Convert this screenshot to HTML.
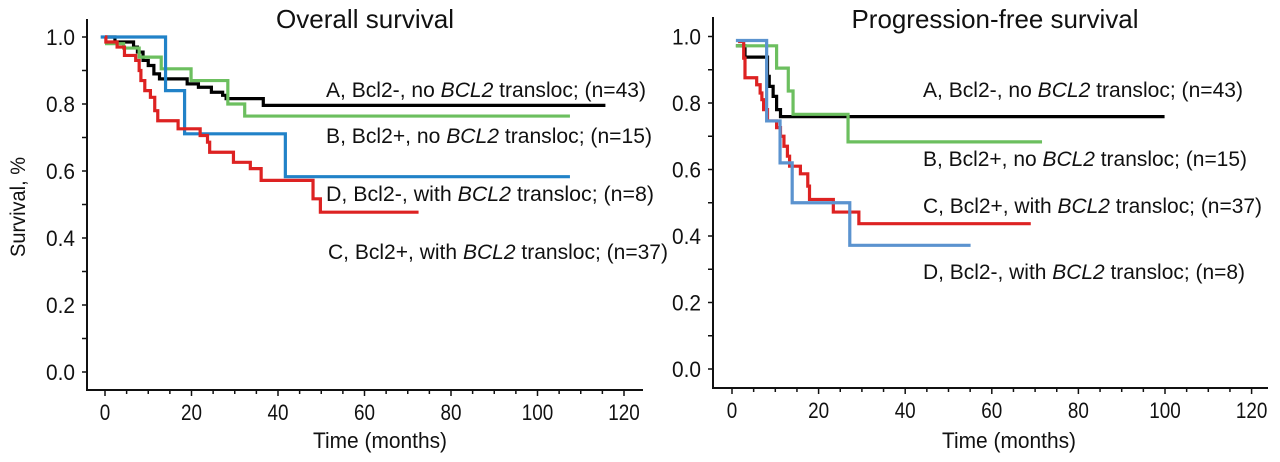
<!DOCTYPE html>
<html><head><meta charset="utf-8"><style>
html,body{margin:0;padding:0;background:#fff;}
svg{display:block;font-family:"Liberation Sans Narrow","Liberation Sans",sans-serif;}
text{fill:#111;}
</style></head><body>
<svg id="chart" width="1280" height="462" viewBox="0 0 1280 462" xmlns="http://www.w3.org/2000/svg"></svg>
<script>
// ---- Data (months, survival fraction) ----
const osLabels = ["A, Bcl2-, no ", "B, Bcl2+, no ", "D, Bcl2-, with ", "C, Bcl2+, with "];
const osNs = ["(n=43)", "(n=15)", "(n=8)", "(n=37)"];
const osA_t = [0, 2.3, 6.6, 7.5, 8.8, 10.0, 11.3, 12.6, 19.0, 21.6, 24.6, 27.2, 28.0, 36.6, 115.7];
const osA_s = [1.0, 0.985, 0.97, 0.955, 0.93, 0.915, 0.89, 0.875, 0.86, 0.85, 0.835, 0.826, 0.816, 0.796, 0.796];
const osB_t = [0, 4.3, 7.9, 13.0, 19.9, 28.4, 32.3, 107.5];
const osB_s = [0.98, 0.967, 0.94, 0.905, 0.87, 0.8, 0.764, 0.764];
const osC_t = [0, 0.2, 2.8, 4.5, 7.1, 7.9, 8.3, 9.2, 10.5, 11.5, 12.2, 16.9, 22.0, 23.7, 24.2, 29.7, 33.6, 36.1, 48.1, 49.8, 72.5];
const osC_s = [1.0, 0.985, 0.97, 0.945, 0.93, 0.9, 0.87, 0.84, 0.82, 0.78, 0.75, 0.726, 0.706, 0.686, 0.656, 0.626, 0.607, 0.572, 0.517, 0.477, 0.477];
const osD_t = [-1, 14.0, 18.4, 41.7, 107.5];
const osD_s = [1.0, 0.84, 0.711, 0.583, 0.583];

const pfsA_t = [0.9, 3.0, 8.2, 8.6, 9.5, 10.3, 11.2, 12.0, 99.9];
const pfsA_s = [0.972, 0.938, 0.88, 0.85, 0.82, 0.78, 0.759, 0.759, 0.759];
const pfsB_t = [0.9, 10.3, 13.0, 14.1, 26.8, 71.6];
const pfsB_s = [0.972, 0.905, 0.836, 0.766, 0.683, 0.683];
const pfsC_t = [1.4, 2.7, 3.0, 5.7, 6.5, 6.9, 7.3, 8.2, 10.3, 11.2, 12.0, 12.8, 13.3, 15.8, 17.5, 17.9, 23.4, 29.3, 69.0];
const pfsC_s = [0.985, 0.935, 0.876, 0.855, 0.83, 0.81, 0.78, 0.746, 0.726, 0.7, 0.67, 0.64, 0.61, 0.587, 0.55, 0.51, 0.472, 0.437, 0.437];
const pfsD_t = [0.9, 8.0, 11.1, 13.9, 27.2, 55.1];
const pfsD_s = [0.988, 0.746, 0.62, 0.5, 0.372, 0.372];

const xTicks = [0, 20, 40, 60, 80, 100, 120];
const yTicks = [0.0, 0.2, 0.4, 0.6, 0.8, 1.0];

const NS = "http://www.w3.org/2000/svg";
const svg = document.getElementById("chart");
function mk(tag, attrs, parent) {
  const e = document.createElementNS(NS, tag);
  for (const k in attrs) e.setAttribute(k, attrs[k]);
  (parent || svg).appendChild(e);
  return e;
}

function panel(cfg) {
  const g = mk("g", {});
  
  
  const X = t => cfg.x0 + t * cfg.px;
  const Y = v => cfg.y0 - v * cfg.py;
  const ax = mk("path", {d: `M${cfg.axX} ${cfg.top} V${cfg.axY} H${cfg.axEnd}`, stroke: "#111", "stroke-width": 2, fill: "none"}, g);
  
  
  for (let m = 0; m <= 120; m += 5) {
    mk("line", {x1: X(m), x2: X(m), y1: cfg.axY, y2: cfg.axY + (m % 20 === 0 ? 6 : 4), stroke: "#111", "stroke-width": 1.5}, g);
  }
  for (let k = 0; k <= 10; k++) {
    mk("line", {x1: cfg.axX - 5, x2: cfg.axX, y1: Y(k / 10), y2: Y(k / 10), stroke: "#111", "stroke-width": 1.5}, g);
  }
  xTicks.forEach(t => {
    const s = String(t);
    const tx = mk("text", {x: X(t), y: cfg.axY + 30, "text-anchor": "middle", "font-size": 22, textLength: s.length * 10.5, lengthAdjust: "spacingAndGlyphs"}, g);
    tx.textContent = s;
    
    
  });
  yTicks.forEach(v => {
    const ty = mk("text", {x: cfg.axX - 12, y: Y(v) + 8, "text-anchor": "end", "font-size": 22, textLength: 29, lengthAdjust: "spacingAndGlyphs"}, g);
    ty.textContent = v.toFixed(1);
    
    
  });
  const xt = mk("text", {x: cfg.xTitleX, y: 448, "text-anchor": "middle", "font-size": 22, textLength: 134, lengthAdjust: "spacingAndGlyphs"}, g);
  xt.textContent = "Time (months)";
  
  
  const tt = mk("text", {x: cfg.titleX, y: 28, "text-anchor": "middle", "font-size": 26, textLength: cfg.titleW, lengthAdjust: "spacingAndGlyphs"}, g);
  tt.textContent = cfg.title;
  
  
  cfg.series.forEach(s => {
    let d = `M${X(s.t[0])} ${Y(s.s[0])}`;
    for (let i = 1; i < s.t.length; i++) {
      d += ` H${X(s.t[i])} V${Y(s.s[i])}`;
    }
    const p = mk("path", {d: d, stroke: s.color, "stroke-width": 3.2, fill: "none"}, g);
    
    
  });
  cfg.labels.forEach(l => {
    const t = mk("text", {x: l.x, y: l.y, "font-size": 21, textLength: l.w, lengthAdjust: "spacingAndGlyphs"}, g);
    
    
    const a = mk("tspan", {}, t); a.textContent = l.pre;
    const b = mk("tspan", {"font-style": "italic"}, t); b.textContent = "BCL2";
    const c = mk("tspan", {}, t); c.textContent = " transloc; " + l.n;
  });
}

panel({
  name: "overall-survival-panel", title: "Overall survival", titleX: 365, titleW: 178, xTitleX: 380,
  x0: 105, px: 4.325, y0: 372, py: 335, axX: 87, axY: 390, axEnd: 643, top: 19,
  series: [
    {name: "curve-a-os", t: osA_t, s: osA_s, color: "#000"},
    {name: "curve-b-os", t: osB_t, s: osB_s, color: "#6cbf5f"},
    {name: "curve-d-os", t: osD_t, s: osD_s, color: "#2182c8"},
    {name: "curve-c-os", t: osC_t, s: osC_s, color: "#dd2222"}
  ],
  labels: [
    {name: "label-a-os", x: 326, y: 97, w: 320, pre: osLabels[0], n: osNs[0]},
    {name: "label-b-os", x: 326, y: 143, w: 326, pre: osLabels[1], n: osNs[1]},
    {name: "label-d-os", x: 326, y: 201, w: 328, pre: osLabels[2], n: osNs[2]},
    {name: "label-c-os", x: 328, y: 259, w: 340, pre: osLabels[3], n: osNs[3]}
  ]
});

panel({
  name: "progression-free-survival-panel", title: "Progression-free survival", titleX: 995, titleW: 287, xTitleX: 1009,
  x0: 732, px: 4.33, y0: 369, py: 332.5, axX: 713, axY: 388, axEnd: 1268, top: 17,
  series: [
    {name: "curve-a-pfs", t: pfsA_t, s: pfsA_s, color: "#000"},
    {name: "curve-b-pfs", t: pfsB_t, s: pfsB_s, color: "#6cbf5f"},
    {name: "curve-c-pfs", t: pfsC_t, s: pfsC_s, color: "#dd2222"},
    {name: "curve-d-pfs", t: pfsD_t, s: pfsD_s, color: "#5b93cf"}
  ],
  labels: [
    {name: "label-a-pfs", x: 923, y: 97, w: 320, pre: "A, Bcl2-, no ", n: "(n=43)"},
    {name: "label-b-pfs", x: 923, y: 166, w: 324, pre: "B, Bcl2+, no ", n: "(n=15)"},
    {name: "label-c-pfs", x: 923, y: 213, w: 339, pre: "C, Bcl2+, with ", n: "(n=37)"},
    {name: "label-d-pfs", x: 923, y: 279, w: 322, pre: "D, Bcl2-, with ", n: "(n=8)"}
  ]
});

const yl = mk("text", {x: 0, y: 0, "text-anchor": "middle", "font-size": 21, textLength: 100, lengthAdjust: "spacingAndGlyphs", transform: "translate(25,207) rotate(-90)"});
yl.textContent = "Survival, %";


</script>
</body></html>
